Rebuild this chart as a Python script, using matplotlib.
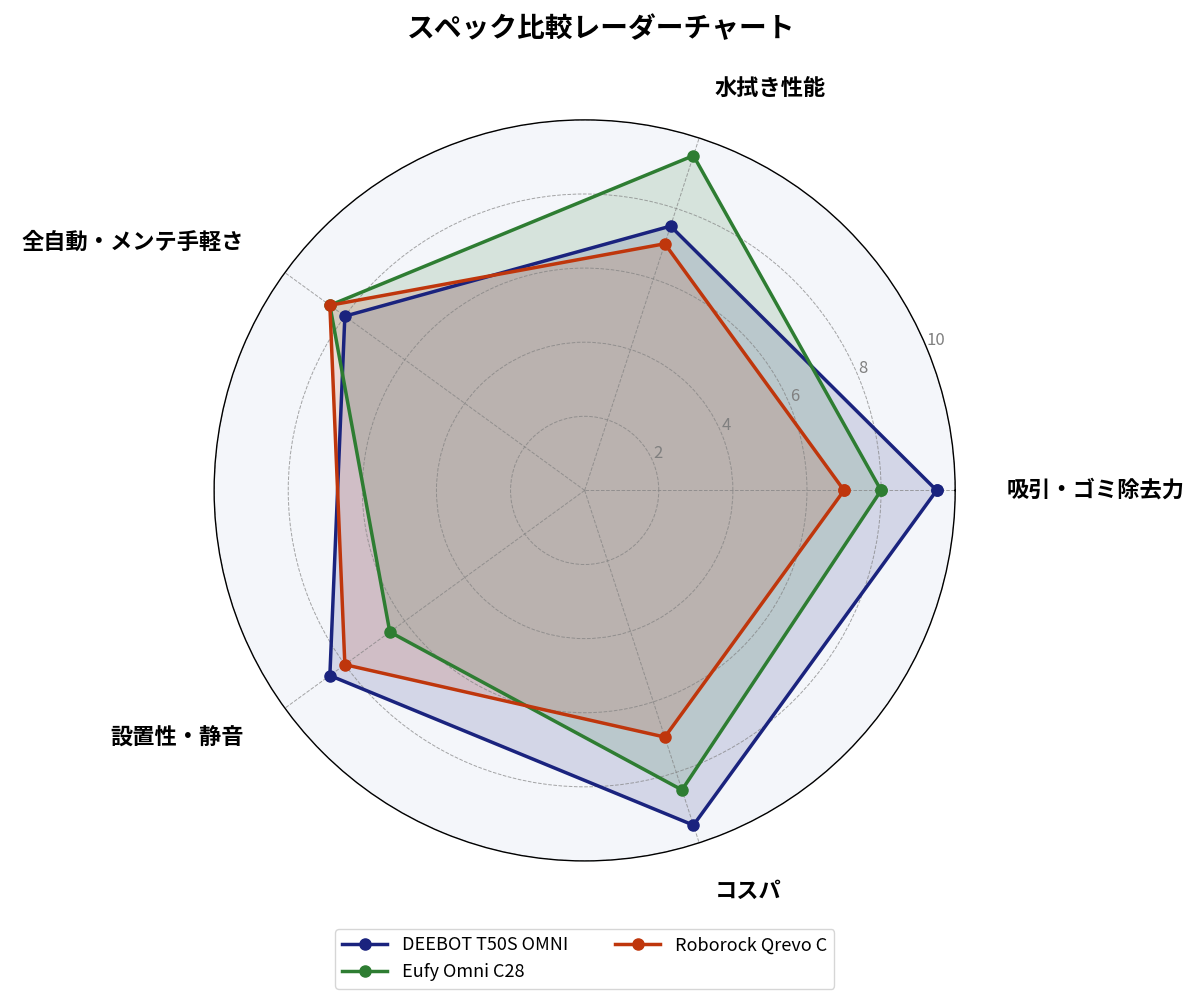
import numpy as np
import matplotlib.pyplot as plt

plt.rcParams['font.family'] = ['Noto Sans CJK JP', 'DejaVu Sans']

# Data
categories = ["吸引・ゴミ除去力", "水拭き性能", "全自動・メンテ手軽さ", "設置性・静音", "コスパ"]
deebot = [9.5, 7.5, 8.0, 8.5, 9.5]
eufy = [8.0, 9.5, 8.5, 6.5, 8.5]
roborock = [7.0, 7.0, 8.5, 8.0, 7.0]
series_names = ["DEEBOT T50S OMNI", "Eufy Omni C28", "Roborock Qrevo C"]
colors = ["#1a237e", "#2e7d32", "#bf360c"]

angles = np.linspace(0, 2 * np.pi, len(categories), endpoint=False).tolist()
angles_closed = angles + angles[:1]

fig = plt.figure(figsize=(12.03, 10.07), dpi=100)
ax = fig.add_axes([0.178, 0.145, 0.616, 0.736], polar=True)
ax.set_facecolor("#f4f6fa")

for name, vals, col in zip(series_names, [deebot, eufy, roborock], colors):
    v = vals + vals[:1]
    ax.plot(angles_closed, v, color=col, linewidth=2.5, marker="o", markersize=8, label=name)
    ax.fill(angles_closed, v, color=col, alpha=0.15)

ax.set_ylim(0, 10)
ax.set_yticks([2, 4, 6, 8, 10])
ax.set_yticklabels(["2", "4", "6", "8", "10"], color="grey", fontsize=12)
ax.set_rlabel_position(22.5)
ax.set_xticks(angles)
ax.set_xticklabels([])

# category labels placed outside the circle
for ang, lab in zip(angles, categories):
    ha = "left" if np.cos(ang) > 0.01 else "right"
    ax.text(ang, 11.38, lab, ha=ha, va="center", fontsize=16, fontweight="bold",
            clip_on=False)

ax.grid(color="grey", linestyle="--", linewidth=0.7, alpha=0.7)
ax.spines["polar"].set_color("black")
ax.spines["polar"].set_linewidth(1.0)

fig.suptitle("スペック比較レーダーチャート", fontsize=20, fontweight="bold", y=0.985)
ax.legend(loc="upper center", bbox_to_anchor=(0.5, -0.08), ncol=2, fontsize=13,
          handlelength=2.5, columnspacing=2.6)

fig.savefig("out.png", dpi=100)
